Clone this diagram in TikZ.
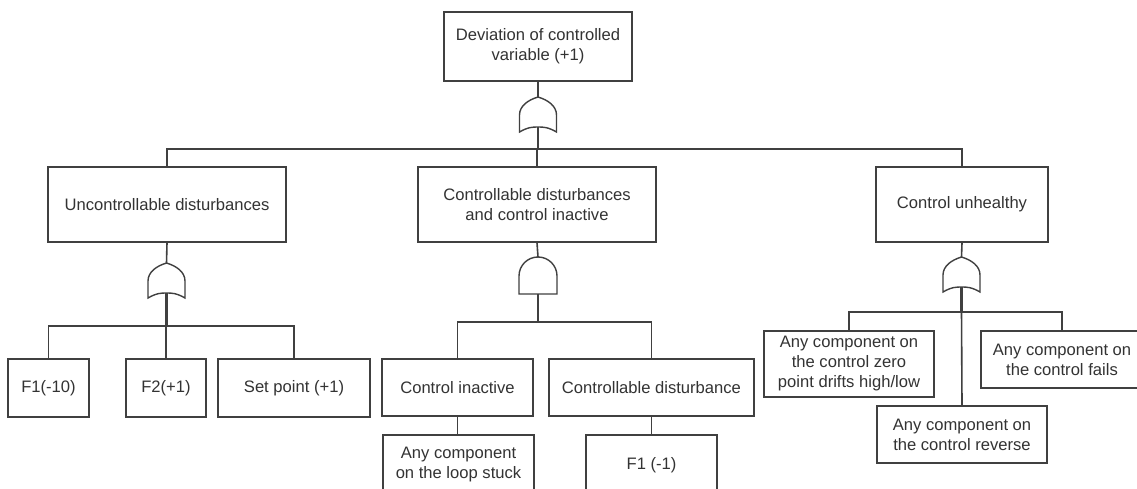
\documentclass[tikz,border=0pt]{standalone}
\usepackage{fontspec}
\setmainfont{Liberation Sans}
\begin{document}
\begin{tikzpicture}[x=1pt,y=-1pt,
  ink/.style={draw=black!75},
  box/.style={ink, line width=1.6pt, rectangle, inner sep=2pt, align=center, text=black!80,
    font=\fontsize{16.6}{20}\selectfont},
  wire/.style={ink, line width=1.6pt},
  stem/.style={ink, line width=2.2pt},
  orgate/.pic={
    \draw[ink, line width=1.4pt, fill=white]
      (0,0) .. controls (10,3) and (18.5,9) .. (18.5,18) -- (18.5,35)
      .. controls (10,30) and (5,30) .. (0,30)
      .. controls (-5,30) and (-10,30) .. (-18.5,35) -- (-18.5,18)
      .. controls (-18.5,9) and (-10,3) .. (0,0) -- cycle;
    \coordinate (-top) at (0,0);
    \coordinate (-bot) at (0,30);
  },
  andgate/.pic={
    \draw[ink, line width=1.4pt, fill=white]
      (-19,37) -- (-19,19) .. controls (-19,8.5) and (-10.5,0) .. (0,0)
      .. controls (10.5,0) and (19,8.5) .. (19,19) -- (19,37) -- cycle;
    \coordinate (-top) at (0,0);
    \coordinate (-bot) at (0,37);
  }]
\useasboundingbox (0,0) rectangle (1137,489);
\clip (0,0) rectangle (1137,489);
\fill[white] (0,0) rectangle (1137,489);

% events
\node[box, minimum width=188, minimum height=69] (top) at (538,46.5) {Deviation of controlled\\variable (+1)};
\node[box, minimum width=238, minimum height=75] (unc) at (167,204.5) {Uncontrollable disturbances};
\node[box, minimum width=238, minimum height=75] (cdc) at (537,204.5) {Controllable disturbances\\and control inactive};
\node[box, minimum width=172, minimum height=75] (cu) at (962,204.5) {Control unhealthy};

\node[box, minimum width=81, minimum height=58] (f110) at (48.5,388) {F1(-10)};
\node[box, minimum width=80, minimum height=58] (f2) at (166,388) {F2(+1)};
\node[box, minimum width=152, minimum height=58] (sp) at (294,388) {Set point (+1)};

\node[box, minimum width=151, minimum height=57] (ci) at (457.5,387.5) {Control inactive};
\node[box, minimum width=205, minimum height=57] (cd) at (651.5,387.5) {Controllable disturbance};
\node[box, minimum width=151, minimum height=60] (stuck) at (458.5,465) {Any component\\on the loop stuck};
\node[box, minimum width=131, minimum height=60] (f1m) at (651.5,465) {F1 (-1)};

\node[box, minimum width=170, minimum height=66] (zero) at (849,364) {Any component on\\the control zero\\point drifts high/low};
\node[box, minimum width=162, minimum height=57] (fails) at (1062,359.5) {Any component on\\the control fails};
\node[box, minimum width=170, minimum height=57] (rev) at (962,434.5) {Any component on\\the control reverse};

% gates
\pic (g0) at (538,97) {orgate};
\pic (g1) at (166.5,263) {orgate};
\pic (g2) at (538,257) {andgate};
\pic (g3) at (961.5,257) {orgate};

% bus levels
\coordinate (b0) at (538,149);
\coordinate (b1) at (166.5,326);
\coordinate (b2) at (538,322);
\coordinate (b3) at (961.5,312);

% top event
\draw[wire] (top.south) -- (g0-top);
\draw[stem] (g0-bot) -- (b0);
\draw[wire] (unc.north) |- (b0) -| (cu.north);
\draw[wire] (cdc.north) -- (cdc.north |- b0);

% uncontrollable disturbances
\draw[wire] (unc.south) -- (g1-top);
\draw[stem] (g1-bot) -- (b1);
\draw[wire] (f110.north) |- (b1) -| (sp.north);
\draw[wire] (f2.north) -- (f2.north |- b1);

% controllable disturbances and control inactive
\draw[wire] (cdc.south) -- (g2-top);
\draw[stem] (g2-bot) -- (b2);
\draw[wire] (ci.north) |- (b2) -| (cd.north);
\draw[wire] (ci.south) -- (ci.south |- stuck.north);
\draw[wire] (cd.south) -- (f1m.north);

% control unhealthy
\draw[wire] (cu.south) -- (g3-top);
\draw[stem] (g3-bot) -- (b3);
\draw[wire] (zero.north) |- (b3) -| (fails.north);
\draw[wire] (b3) -- (rev.north);
\end{tikzpicture}
\end{document}
